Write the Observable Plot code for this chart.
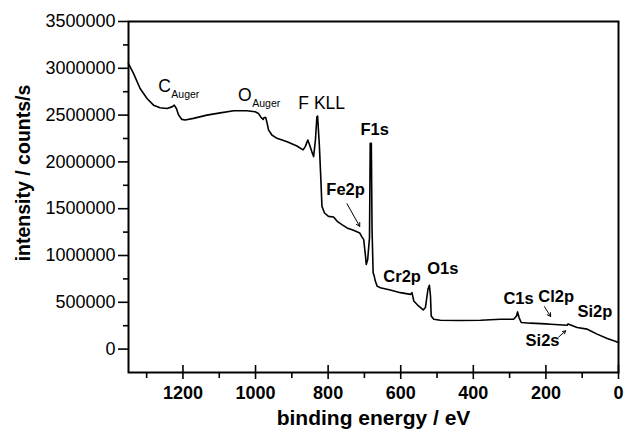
<!DOCTYPE html>
<html><head><meta charset="utf-8">
<script src="https://cdn.jsdelivr.net/npm/d3@7"></script>
<script src="https://cdn.jsdelivr.net/npm/@observablehq/plot@0.6"></script>
<style>body{margin:0;background:#fff} #chart svg{display:block}</style>
</head><body><div id="chart"></div>
<script>
// XPS survey spectrum (binding energy in eV, intensity in counts/s)
const energy = [1350,1336,1318,1299,1281,1263,1244,1230,1224,1218,1212,1203,1194,1171,1134,1097,1060,1024,1001,992,985,979,976,972,968,964,955,941,913,886,869,863,856,851,845,840,835,831,829,824,820,817,810,799,785,775,762,748,730,713,707,702,697,695,691,688,686,684,681,679,676,673,670,665,656,629,601,573,569,564,551,538,532,525,521,518,516,509,491,440,380,325,289,281,278,274,268,243,200,187,141,139,114,86,59,31,13,0];
const intensity = [3050000,2943000,2784000,2678000,2606000,2578000,2571000,2588000,2606000,2571000,2500000,2454000,2447000,2465000,2500000,2524000,2546000,2546000,2535000,2518000,2475000,2454000,2475000,2475000,2412000,2340000,2287000,2252000,2216000,2170000,2128000,2163000,2234000,2181000,2110000,2057000,2234000,2482000,2489000,2163000,1808000,1525000,1454000,1418000,1411000,1365000,1330000,1295000,1269000,1241000,1199000,1170000,993000,904000,957000,1099000,1188000,2199000,2199000,1277000,816000,780000,727000,673000,656000,631000,603000,585000,603000,514000,461000,418000,444000,638000,681000,567000,354000,319000,308000,306000,308000,319000,319000,354000,397000,337000,284000,277000,270000,266000,255000,269000,231000,213000,160000,114000,88000,71000];

const xMajorTicks = [0,200,400,600,800,1000,1200];
const xMinorTicks = [100,300,500,700,900,1100,1300];
const yMajorTicks = [0,500000,1000000,1500000,2000000,2500000,3000000,3500000];
const yMinorTicks = [250000,750000,1250000,1750000,2250000,2750000,3250000];

// peak annotations: text, anchor energy, anchor intensity, kind
const labelText = ["C","Auger","O","Auger","F KLL","F1s","Fe2p","Cr2p","O1s","C1s","Cl2p","Si2p","Si2s"];
const labelE    = [1268,1232,1048,1009,882,711,805,648,527,317,221,113,256];
const labelI    = [2745000,2681000,2649000,2585000,2564000,2287000,1649000,713000,798000,479000,500000,340000,32000];
const labelKind = ["main","sub","main","sub","main","bold","bold","bold","bold","bold","bold","bold","bold"];

// arrows: from (E1,I1) to (E2,I2)
const arrowE1 = [748,204,165];
const arrowI1 = [1553000,454000,128000];
const arrowE2 = [713,187,146];
const arrowI2 = [1311000,348000,195000];

const xTitle = "binding energy / eV";
const yTitle = "intensity / counts/s";

const spectrum = energy.map((e,i)=>({e, v: intensity[i]}));
const labels = labelText.map((t,i)=>({t, e: labelE[i], v: labelI[i], k: labelKind[i]}));
const arrows = arrowE1.map((e,i)=>({e1: e, v1: arrowI1[i], e2: arrowE2[i], v2: arrowI2[i]}));

const font = "'Liberation Sans', Arial, Helvetica, sans-serif";

const chart = Plot.plot({
  width: 629,
  height: 438,
  marginLeft: 128,
  marginRight: 11,
  marginTop: 21,
  marginBottom: 66,
  style: {fontFamily: font, fontSize: "18px", background: "white", color: "black"},
  x: {domain: [1350, 0]},
  y: {domain: [-250000, 3500000]},
  marks: [
    Plot.line(spectrum, {x: "e", y: "v", stroke: "black", strokeWidth: 1.6}),
    Plot.frame({stroke: "black", strokeWidth: 2}),
    Plot.axisX({ticks: xMajorTicks, tickSize: 14, dy: -7, tickFormat: () => "", strokeWidth: 1.6, label: null}),
    Plot.axisX({ticks: xMinorTicks, tickSize: 6, tickFormat: () => "", strokeWidth: 1.6, label: null}),
    Plot.axisX({ticks: xMajorTicks, tickSize: 0, tickPadding: 14, tickFormat: d => String(d), fontWeight: "bold", fontSize: 18, label: null}),
    Plot.axisY({ticks: yMajorTicks, tickSize: 10, tickPadding: 3, tickFormat: d => String(d), fontSize: 18, strokeWidth: 1.6, label: null}),
    Plot.axisY({ticks: yMinorTicks, tickSize: 5, tickFormat: () => "", strokeWidth: 1.6, label: null}),
    Plot.text(labels.filter(d => d.k === "main"), {x: "e", y: "v", text: "t", textAnchor: "start", lineAnchor: "bottom", fontSize: 17.5, fill: "black"}),
    Plot.text(labels.filter(d => d.k === "sub"), {x: "e", y: "v", text: "t", textAnchor: "start", lineAnchor: "bottom", fontSize: 10.5, fill: "black"}),
    Plot.text(labels.filter(d => d.k === "bold"), {x: "e", y: "v", text: "t", textAnchor: "start", lineAnchor: "bottom", fontSize: 16.5, fontWeight: "bold", fill: "black"}),
    Plot.arrow(arrows, {x1: "e1", y1: "v1", x2: "e2", y2: "v2", stroke: "black", strokeWidth: 1, headLength: 6}),
    Plot.text([xTitle], {frameAnchor: "bottom", dy: 52, text: d => d, textAnchor: "middle", lineAnchor: "bottom", fontSize: 21, fontWeight: "bold", fill: "black"}),
    Plot.text([yTitle], {frameAnchor: "left", dx: -99, dy: -24, rotate: -90, text: d => d, textAnchor: "middle", lineAnchor: "bottom", fontSize: 19.5, fontWeight: "bold", fill: "black"})
  ]
});
document.getElementById("chart").appendChild(chart);
</script>
</body></html>
